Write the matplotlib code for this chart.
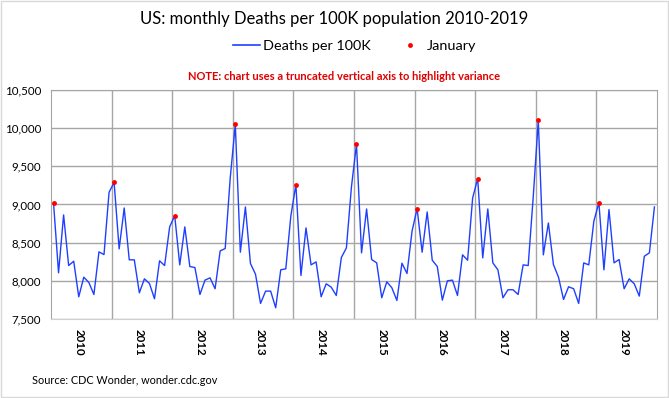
import numpy as np
import matplotlib
matplotlib.use('Agg')
import matplotlib.pyplot as plt
from matplotlib.lines import Line2D
from matplotlib.patches import Rectangle

plt.rcParams['font.family'] = ['Lato', 'DejaVu Sans']

years = [2010, 2011, 2012, 2013, 2014, 2015, 2016, 2017, 2018, 2019]
d2010 = [9024, 8105, 8863, 8200, 8257, 7791, 8048, 7978, 7821, 8379, 8344, 9159]
d2011 = [9290, 8418, 8954, 8275, 8275, 7843, 8026, 7965, 7765, 8262, 8200, 8706]
d2012 = [8854, 8209, 8706, 8187, 8174, 7821, 8009, 8039, 7896, 8392, 8423, 9350]
d2013 = [10048, 8375, 8967, 8227, 8087, 7704, 7865, 7865, 7647, 8144, 8157, 8850]
d2014 = [9259, 8070, 8693, 8209, 8248, 7791, 7961, 7917, 7808, 8305, 8431, 9230]
d2015 = [9791, 8366, 8941, 8279, 8235, 7778, 7987, 7909, 7743, 8231, 8096, 8650]
d2016 = [8946, 8375, 8902, 8270, 8187, 7747, 8000, 8009, 7808, 8340, 8270, 9085]
d2017 = [9338, 8301, 8941, 8235, 8144, 7778, 7883, 7883, 7821, 8209, 8200, 9100]
d2018 = [10100, 8340, 8758, 8213, 8048, 7756, 7922, 7896, 7704, 8235, 8209, 8780]
d2019 = [9024, 8144, 8933, 8235, 8279, 7896, 8026, 7961, 7800, 8322, 8366, 8967]

deaths = np.array(d2010 + d2011 + d2012 + d2013 + d2014 + d2015 + d2016 + d2017 + d2018 + d2019)
x = np.arange(len(deaths))
jan = x[::12]

fig = plt.figure(figsize=(6.69, 3.98), dpi=100)
ax = fig.add_axes([0.0762, 0.1985, 0.9058, 0.5755])

ax.plot(x, deaths, color='#1f3fff', lw=1.0, zorder=3)
ax.plot(jan, deaths[jan], 'o', color='#ff0000', ms=3.5, mec='none', zorder=4)

ax.set_xlim(-0.5, len(deaths) - 0.5)
ax.set_ylim(7500, 10500)
ax.set_yticks(np.arange(7500, 10501, 500))
ax.set_yticklabels(['{:,}'.format(v) for v in range(7500, 10501, 500)], fontsize=8.3)
ax.yaxis.grid(True, color='#a6a6a6', lw=1)
for b in range(12, len(deaths), 12):
    ax.axvline(b - 0.5, color='#a6a6a6', lw=1, zorder=1)
ax.set_xticks(jan + 5.0)
ax.set_xticklabels([str(y) for y in years], rotation=-90, fontsize=8.3, fontweight='bold', va='top')
ax.tick_params(length=0, pad=7)
for s in ['top', 'right']:
    ax.spines[s].set_color('#a6a6a6')
ax.spines['left'].set_color('#a6a6a6')
ax.spines['bottom'].set_color('#d0d0d0')
ax.set_axisbelow(True)

fig.text(0.5, 0.953, 'US: monthly Deaths per 100K population 2010-2019', ha='center', va='center', fontsize=12)
handles = [Line2D([], [], color='#1f3fff', lw=1.2),
           Line2D([], [], marker='o', color='#ff0000', ls='none', ms=3.5, mec='none')]
fig.legend(handles, ['Deaths per 100K', 'January'], loc='center', bbox_to_anchor=(0.53, 0.884),
           ncol=2, frameon=False, fontsize=10.4, handlelength=1.9, handletextpad=0.2, columnspacing=1.8)
fig.text(0.514, 0.808, 'NOTE: chart uses a truncated vertical axis to highlight variance', ha='center', va='center',
         fontsize=8.0, fontweight='bold', color='#e00000')
fig.text(0.048, 0.043, 'Source: CDC Wonder, wonder.cdc.gov', ha='left', va='center', fontsize=7.8)

fig.add_artist(Rectangle((0.001, 0.002), 0.997, 0.995, transform=fig.transFigure, fill=False,
                         ec='#d9d9d9', lw=1))
fig.savefig('out.png', dpi=100)
